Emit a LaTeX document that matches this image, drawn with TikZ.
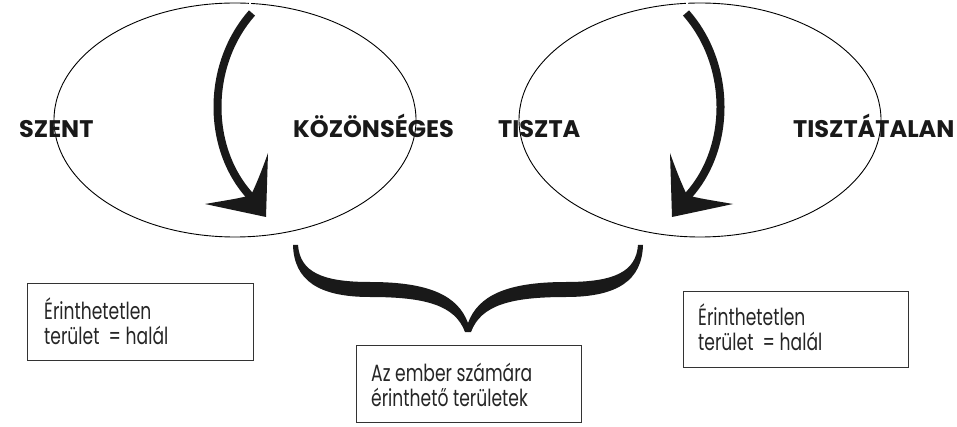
\documentclass[tikz,border=0pt]{standalone}
\usepackage{fontspec}
\setmainfont{Poppins}
\newfontfamily\boxfont{Poppins}[FakeStretch=0.73]
\usetikzlibrary{shapes.geometric}
\tikzset{
  oval/.style={draw, ellipse, line width=0.9pt, minimum width=362pt, minimum height=234pt, inner sep=0pt},
  lab/.style={anchor=base west, inner sep=0pt, font=\fontsize{24}{26}\selectfont\bfseries, text=black!90},
  boxframe/.style={draw, line width=1pt, draw=black!80, inner sep=0pt},
  boxtext/.style={anchor=base west, inner sep=0pt, align=left, font=\boxfont\fontsize{23.5}{25}\selectfont, text=black!85},
  shaft/.style={line width=8pt, black!90},
  head/.style={fill=black!90},
  gap/.style={draw=white, line width=1.5pt}
}
\begin{document}
\begin{tikzpicture}[x=1pt,y=-1pt]
\useasboundingbox (0,0) rectangle (957,427);
\fill[white] (0,0) rectangle (957,427);

% ellipses
\node[oval] (E1) at (235,120) {};
\node[oval] (E2) at (700,120) {};
\draw[gap] (E1.north) ++(15,-2) -- ++(0,6);
\draw[gap] (E2.north) ++(-13,-2) -- ++(0,6);

% labels
\node[lab] (szent) at (19,138) {SZENT};
\node[lab] (koz) at (293,138) {KÖZÖNSÉGES};
\node[lab] (tiszta) at (498,138) {TISZTA};
\node[lab] (tisztat) at (793,138) {TISZTÁTALAN};

% arrows
\begin{scope}
  \draw[shaft] (252,13) .. controls (206,65) and (206,150) .. (252,198);
  \fill[head] (268,153) -- (266,217) -- (205,204) .. controls (228,200) and (242,198) .. (251,195) .. controls (256,185) and (262,170) .. (268,153) -- cycle;
\end{scope}
\begin{scope}[xshift=938pt, xscale=-1]
  \draw[shaft] (252,13) .. controls (206,65) and (206,150) .. (252,198);
  \fill[head] (268,153) -- (266,217) -- (205,204) .. controls (228,200) and (242,198) .. (251,195) .. controls (256,185) and (262,170) .. (268,153) -- cycle;
\end{scope}

% brace
\foreach \s/\sh in {1/0, -1/936} {
\begin{scope}[xshift=\sh pt, xscale=\s]
  \fill[black!90] (293,245) .. controls (294,280) and (318,297) .. (370,297) .. controls (425,297) and (455,305) .. (465,332) -- (468,332) -- (468,323) .. controls (458,296) and (430,282) .. (370,282) .. controls (322,282) and (300,272) .. (298,245) -- cycle;
\end{scope}
}

% boxes
\draw[boxframe] (27,283) rectangle (253,360);
\node[boxtext] (b1) at (44,344) {Érinthetetlen\\terület\ \ = halál};
\draw[boxframe] (356,345) rectangle (581,422);
\node[boxtext] (b2) at (371,406) {Az ember számára\\érinthető területek};
\draw[boxframe] (683,291) rectangle (908,367);
\node[boxtext] (b3) at (698,350) {Érinthetetlen\\terület\ \ = halál};
\end{tikzpicture}
\end{document}
